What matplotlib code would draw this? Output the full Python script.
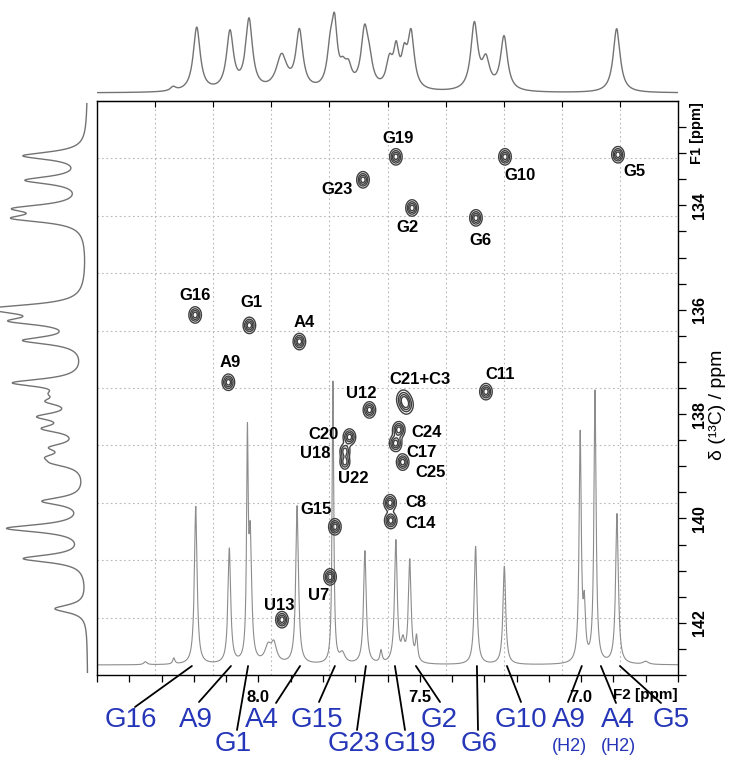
import numpy as np
import matplotlib
matplotlib.use('Agg')
import matplotlib.pyplot as plt

W, H = 733, 758
X_LIM = (8.5, 6.7)      # 1H, ppm
Y_LIM = (143.0, 132.0)  # 13C, ppm

# ---- 2D cross peaks (1H ppm, 13C ppm) ----
peak_names = ['G19', 'G10', 'G5', 'G23', 'G2', 'G6', 'G16', 'G1', 'A4', 'A9',
              'C11', 'C21+C3', 'U12', 'C24', 'C20', 'C17', 'U18', 'C25',
              'C8', 'C14', 'G15', 'U7', 'U13']
peak_h = [7.574, 7.236, 6.886, 7.676, 7.524, 7.326, 8.196, 8.028, 7.873, 8.093,
          7.295, 7.546, 7.656, 7.565, 7.718, 7.575, 7.732, 7.553,
          7.592, 7.590, 7.763, 7.778, 7.927]
peak_c = [133.07, 133.07, 133.03, 133.51, 134.05, 134.24, 136.10, 136.30, 136.61, 137.39,
          137.57, 137.77, 137.92, 138.30, 138.44, 138.56, 138.80, 138.92,
          139.70, 140.04, 140.16, 141.12, 141.94]
# label anchor (1H, 13C)
label_h = [7.568, 7.190, 6.836, 7.757, 7.537, 7.313, 8.196, 8.020, 7.859, 8.088,
           7.252, 7.499, 7.682, 7.478, 7.797, 7.496, 7.825, 7.468,
           7.512, 7.499, 7.822, 7.812, 7.936]
label_c = [132.71, 133.42, 133.36, 133.70, 134.43, 134.68, 135.72, 135.87, 136.25, 137.02,
           137.25, 137.33, 137.61, 138.36, 138.40, 138.73, 138.76, 139.11,
           139.70, 140.10, 139.83, 141.48, 141.66]
extra_label = ('U22', 7.707, 139.24)

# ---- 1D 1H spectrum overlaid in the 2D frame ----
h1_ppm = [8.350, 8.262, 8.194, 8.090, 8.034, 8.025, 7.970, 7.952, 7.880, 7.769,
          7.740, 7.670, 7.620, 7.574, 7.552, 7.531, 7.510, 7.327, 7.238, 7.003,
          6.990, 6.957, 6.889, 6.800]
h1_int = [3, 6, 158, 115, 212, 120, 16, 18, 158, 282,
          10, 113, 12, 122, 18, 102, 24, 118, 98, 228,
          50, 272, 150, 3]
h1_w = [0.006, 0.004, 0.005, 0.005, 0.003, 0.005, 0.012, 0.010, 0.005, 0.003,
        0.010, 0.005, 0.004, 0.005, 0.006, 0.005, 0.004, 0.005, 0.005, 0.004,
        0.004, 0.004, 0.005, 0.010]

# ---- top projection (F2) ----
top_ppm = [8.264, 8.191, 8.088, 8.029, 7.928, 7.873, 7.777, 7.764, 7.738, 7.721,
           7.671, 7.656, 7.594, 7.573, 7.548, 7.527, 7.331, 7.295, 7.239, 6.890]
top_int = [4, 64, 58, 70, 34, 58, 36, 56, 16, 18,
           56, 20, 26, 36, 28, 55, 66, 28, 54, 64]
top_w = [0.010, 0.013, 0.013, 0.013, 0.020, 0.013, 0.012, 0.010, 0.012, 0.012,
         0.013, 0.012, 0.012, 0.010, 0.010, 0.012, 0.013, 0.014, 0.013, 0.013]

# ---- left projection (F1) ----
left_ppm = [133.05, 133.52, 134.06, 134.25, 135.97, 136.04, 136.22, 136.59, 137.40,
            137.61, 137.76, 138.05, 138.28, 138.64, 138.83, 138.94, 139.67, 140.19,
            140.77, 141.73]
left_int = [62, 58, 62, 64, 70, 28, 62, 58, 68,
            18, 28, 40, 36, 28, 26, 22, 42, 78,
            62, 32]

# ---- assignment labels under the spectrum ----
blue_names = ['G16', 'A9', 'G1', 'A4', 'G15', 'G23', 'G19', 'G2', 'G6', 'G10', 'A9', 'A4', 'G5']
blue_peak = [8.206, 8.085, 8.032, 7.871, 7.763, 7.667, 7.577, 7.512, 7.323, 7.230, 6.998, 6.939, 6.880]
blue_txt = [(131, 727), (196, 727), (233, 751), (262, 727), (317, 727), (354, 751), (410, 751),
            (439, 727), (479, 751), (521, 727), (569, 727), (618, 727), (671, 727)]
blue_end = [(135, 707), (199, 702), (237, 730), (276, 703), (319, 702), (357, 730), (405, 730),
            (440, 702), (478, 730), (521, 702), (568, 702), (616, 703), (661, 703)]


def lor(x, pos, amp, w):
    y = np.zeros_like(x)
    for p, a, ww in zip(pos, amp, np.broadcast_to(w, len(pos))):
        y += a / (1 + ((x - p) / ww) ** 2)
    return y


def rect(x0, y0, x1, y1):
    return [x0 / W, 1 - y1 / H, (x1 - x0) / W, (y1 - y0) / H]


fig = plt.figure(figsize=(W / 100, H / 100), dpi=100)
BOLD = dict(family='Liberation Sans', fontweight='bold')
BLUE = '#2536b8'

# main 2D panel
ax = fig.add_axes(rect(97, 101, 678, 675))
ax.set_xlim(X_LIM); ax.set_ylim(Y_LIM)
for k in range(1, 10):
    gx = X_LIM[0] + (X_LIM[1] - X_LIM[0]) * k / 10
    gy = Y_LIM[1] + (Y_LIM[0] - Y_LIM[1]) * k / 10
    ax.axvline(gx, color='0.72', ls=(0, (1.5, 2.5)), lw=0.8, zorder=0)
    ax.axhline(gy, color='0.72', ls=(0, (1.5, 2.5)), lw=0.8, zorder=0)

# overlaid 1D (y in axes fraction, baseline 10 px above bottom)
xs = np.linspace(X_LIM[1], X_LIM[0], 6000)
spec = lor(xs, h1_ppm, h1_int, h1_w)
ax.plot(xs, (10 + spec) / 574, color='0.55', lw=0.8, transform=ax.get_xaxis_transform(), zorder=1)

# contours
gx_, gy_ = np.meshgrid(np.linspace(6.7, 8.5, 900), np.linspace(132, 143, 900))
Z = np.zeros_like(gx_)
for ph, pc, nm in zip(peak_h, peak_c, peak_names):
    if nm == 'C21+C3':
        for dh, dc in ((0.005, -0.06), (-0.005, 0.06)):
            Z += 0.75 * np.exp(-0.5 * (((gx_ - ph - dh) / 0.012) ** 2 + ((gy_ - pc - dc) / 0.10) ** 2))
        continue
    if nm == 'U18':
        for dc in (-0.09, 0.12):
            Z += 0.75 * np.exp(-0.5 * (((gx_ - ph) / 0.009) ** 2 + ((gy_ - pc - dc) / 0.08) ** 2))
        continue
    Z += np.exp(-0.5 * (((gx_ - ph) / 0.0105) ** 2 + ((gy_ - pc) / 0.085) ** 2))
ax.contour(gx_, gy_, Z, levels=[0.18, 0.38, 0.6, 0.82], colors='0.25', linewidths=1.0, zorder=3)

for nm, lh, lc in zip(peak_names, label_h, label_c):
    ax.text(lh, lc, nm, ha='center', va='center', fontsize=12, zorder=4, **BOLD)
ax.text(extra_label[1], extra_label[2], extra_label[0], ha='center', va='center', fontsize=12, zorder=4, **BOLD)

# axes decoration
xt = np.round(np.arange(6.7, 8.51, 0.1), 1)
ax.set_xticks(xt)
ax.set_xticklabels(['%.1f' % t if t in (8.0, 7.5, 7.0) else '' for t in xt], **BOLD)
ax.tick_params(axis='x', direction='out', length=5, width=0.9, pad=6, labelsize=12)
ax.yaxis.tick_right()
yt = np.arange(132.5, 143.01, 0.5)
ax.set_yticks(yt)
ax.set_yticklabels(['%d' % t if (t % 2 == 0 and 134 <= t <= 142) else '' for t in yt], **BOLD)
ax.tick_params(axis='y', direction='out', length=6, width=0.9, pad=4, labelsize=11.5, labelrotation=90)
for lb in ax.get_yticklabels():
    lb.set_va('center')
for s in ax.spines.values():
    s.set_linewidth(1.0)
sec = ax.secondary_xaxis('top')
sec.set_xticks([X_LIM[0] + (X_LIM[1] - X_LIM[0]) * k / 10 for k in range(1, 10)])
sec.tick_params(direction='in', length=4, width=0.8, labeltop=False)

fig.text(645 / W, 1 - 695 / H, 'F2 [ppm]', ha='center', va='center', fontsize=11, **BOLD)
fig.text(697 / W, 1 - 133 / H, 'F1 [ppm]', ha='center', va='center', fontsize=10.5, rotation=90, **BOLD)
fig.text(717 / W, 1 - 405 / H, 'δ (¹³C) / ppm', ha='center', va='center', fontsize=14,
         family='Liberation Sans', rotation=90)

# top projection
axt = fig.add_axes(rect(97, 0, 678, 98))
axt.set_xlim(X_LIM); axt.set_ylim(-5, 93)
axt.plot(xs, lor(xs, top_ppm, top_int, top_w), color='0.45', lw=1.0)
axt.axis('off')

# left projection
axl = fig.add_axes(rect(0, 101, 95, 675))
ys = np.linspace(132.05, 142.95, 3000)
axl.set_ylim(Y_LIM); axl.set_xlim(88, -7)
axl.plot(lor(ys, left_ppm, left_int, 0.09), ys, color='0.45', lw=1.0)
axl.axis('off')

# blue assignment labels with leader lines
for nm, pk, (tx, ty), (ex, ey) in zip(blue_names, blue_peak, blue_txt, blue_end):
    fig.text(tx / W, 1 - ty / H, nm, ha='center', va='baseline', fontsize=20,
             family='Liberation Sans', color=BLUE)
    ax.annotate('', xy=(pk, 9 / 574), xycoords=ax.get_xaxis_transform(),
                xytext=(ex, H - ey), textcoords='figure pixels', annotation_clip=False,
                arrowprops=dict(arrowstyle='-', color='black', lw=1.3, shrinkA=0, shrinkB=0))
for tx in (569, 618):
    fig.text(tx / W, 1 - 751 / H, '(H2)', ha='center', va='baseline', fontsize=13,
             family='Liberation Sans', color=BLUE)

fig.savefig('out.png', dpi=100)
